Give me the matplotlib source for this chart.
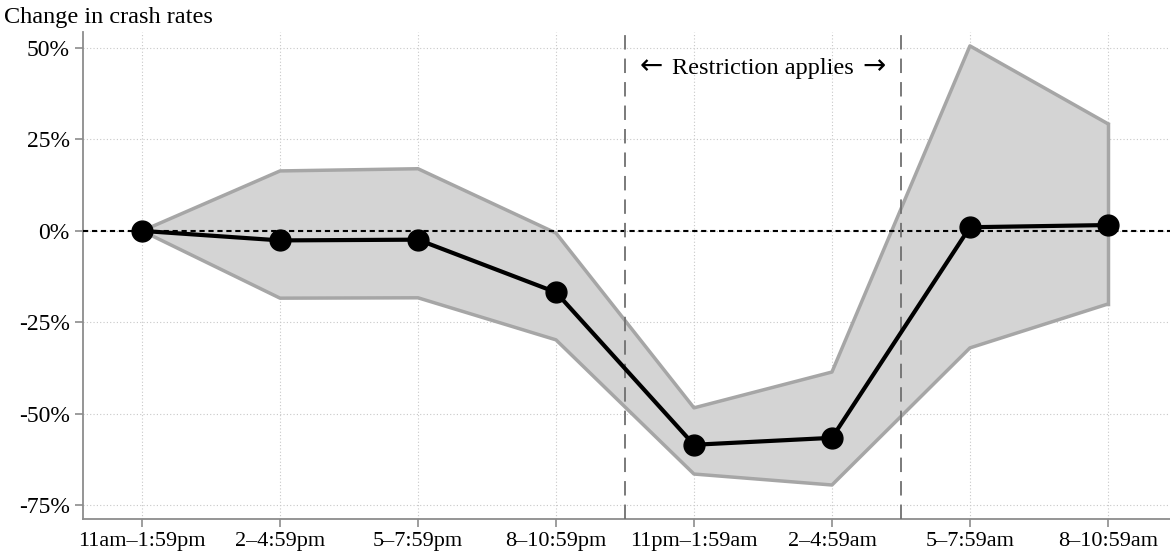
import matplotlib
matplotlib.use("Agg")
import matplotlib.pyplot as plt

# time-of-day bins
labels = ["11am–1:59pm", "2–4:59pm", "5–7:59pm", "8–10:59pm",
          "11pm–1:59am", "2–4:59am", "5–7:59am", "8–10:59am"]
estimate = [0, -2.6, -2.4, -16.8, -58.5, -56.6, 1.0, 1.6]
upper = [0, 16.4, 17.0, -0.6, -48.4, -38.6, 50.6, 29.3]
lower = [0, -18.4, -18.3, -29.8, -66.5, -69.5, -32.0, -20.0]
yticks = [50, 25, 0, -25, -50, -75]

plt.rcParams['font.family'] = ['Liberation Serif', 'DejaVu Serif']

fig = plt.figure(figsize=(11.7, 5.56), dpi=100)
ax = fig.add_axes([83 / 1170, 37 / 556, 1 - 83 / 1170, (519 - 32) / 556])

x = list(range(len(labels)))

# confidence band
ax.fill_between(x, lower, upper, facecolor='#d4d4d4', edgecolor='none', zorder=2)
ax.plot(x, upper, color='#a6a6a6', lw=2.5, zorder=3)
ax.plot(x, lower, color='#a6a6a6', lw=2.5, zorder=3)
ax.plot([x[-1], x[-1]], [lower[-1], upper[-1]], color='#a6a6a6', lw=2.5, zorder=3)

# zero line and restriction window
ax.axhline(0, color='black', lw=1.5, ls=(0, (2.5, 1.8)), zorder=4)
ax.axvline(3.5, color='#707070', lw=1.3, ls=(0, (8, 5)), zorder=4)
ax.axvline(5.5, color='#707070', lw=1.3, ls=(0, (8, 5)), zorder=4)

# point estimates
ax.plot(x, estimate, color='black', lw=3, marker='o', markersize=15, zorder=5)

# "← Restriction applies →" label, arrows drawn in a font with wider arrows
ax.text(4.5, 44.5, "Restriction applies", ha='center', va='center', fontsize=17.5)
ax.text(3.775, 45.2, "←", ha='right', va='center', fontsize=20, family='DejaVu Sans')
ax.text(5.22, 45.2, "→", ha='left', va='center', fontsize=20, family='DejaVu Sans')

ax.set_xlim(-0.428, 7.45)
ax.set_ylim(-78.8, 54.4)
ax.set_xticks(x)
ax.set_xticklabels(labels, fontsize=16)
ax.set_yticks(yticks)
ax.set_yticklabels([f"{v}%" for v in yticks], fontsize=17)

ax.grid(True, color='#c8c8c8', ls=(0, (1, 2)), lw=0.8, zorder=0)
ax.set_axisbelow(True)

for side in ['top', 'right']:
    ax.spines[side].set_visible(False)
for side in ['left', 'bottom']:
    ax.spines[side].set_color('#8c8c8c')
    ax.spines[side].set_linewidth(1.3)
ax.tick_params(colors='#8c8c8c', labelcolor='black', length=6, width=1.2)

fig.text(4 / 1170, 1 - 17 / 556, "Change in crash rates", ha='left', va='center', fontsize=17.5)

fig.savefig("out.png", dpi=100)
